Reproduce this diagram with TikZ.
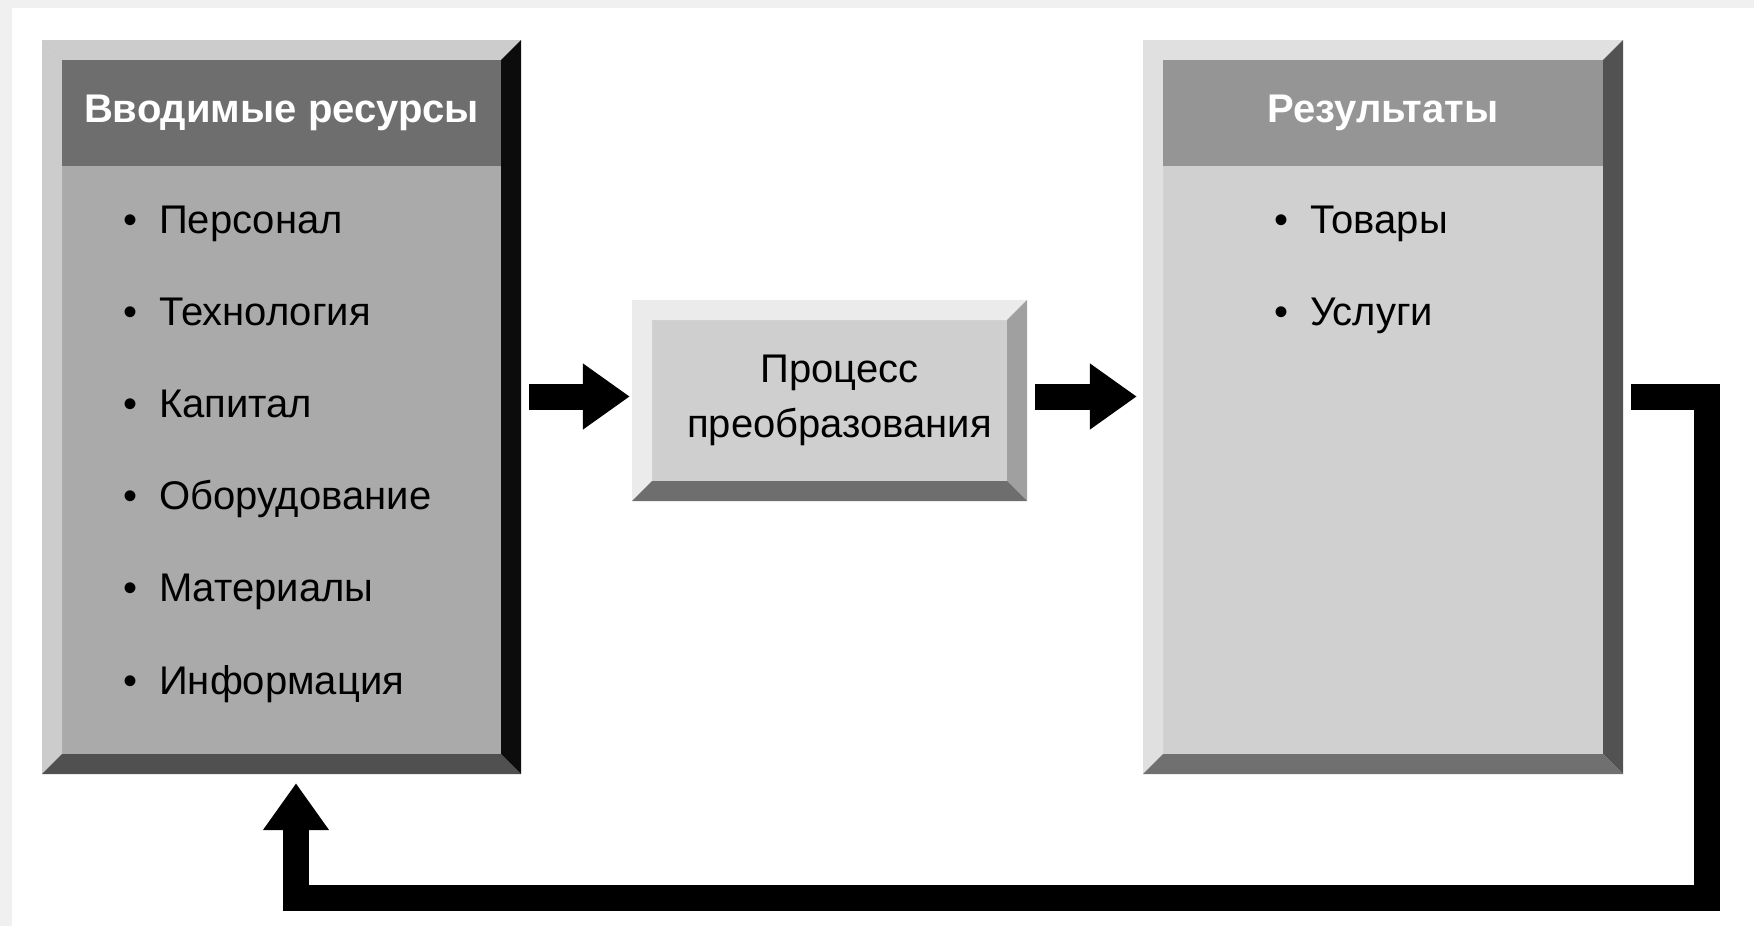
\documentclass[tikz,border=0pt]{standalone}
\usepackage{fontspec}
\setmainfont{Liberation Sans}
\usetikzlibrary{positioning, arrows.meta}

\definecolor{inface}{HTML}{AAAAAA}
\definecolor{inhead}{HTML}{6E6E6E}
\definecolor{inlight}{HTML}{CCCCCC}
\definecolor{indark}{HTML}{0C0C0C}
\definecolor{inbottom}{HTML}{505050}
\definecolor{procface}{HTML}{CFCFCF}
\definecolor{proclight}{HTML}{EBEBEB}
\definecolor{procdark}{HTML}{A0A0A0}
\definecolor{procbottom}{HTML}{6E6E6E}
\definecolor{outface}{HTML}{D0D0D0}
\definecolor{outhead}{HTML}{959595}
\definecolor{outlight}{HTML}{E0E0E0}
\definecolor{outdark}{HTML}{525252}
\definecolor{outbottom}{HTML}{707070}
\definecolor{frame}{HTML}{F0F0F0}

\begin{document}
\begin{tikzpicture}[
        x=1pt, y=-1pt,
        font=\fontsize{40}{55}\selectfont,
        bevel/.style n args={4}{inner sep=0pt, fill=#1,
            path picture={
                \path (path picture bounding box.north west) coordinate (p1)
                      (path picture bounding box.north east) coordinate (p2)
                      (path picture bounding box.south east) coordinate (p3)
                      (path picture bounding box.south west) coordinate (p4);
                \fill[#2] (p1) -- (p2) -- ([shift={(-20pt,-20pt)}]p2) -- ([shift={(20pt,-20pt)}]p1) -- cycle;
                \fill[#2] (p1) -- (p4) -- ([shift={(20pt,20pt)}]p4) -- ([shift={(20pt,-20pt)}]p1) -- cycle;
                \fill[#3] (p2) -- (p3) -- ([shift={(-20pt,20pt)}]p3) -- ([shift={(-20pt,-20pt)}]p2) -- cycle;
                \fill[#4] (p4) -- (p3) -- ([shift={(-20pt,20pt)}]p3) -- ([shift={(20pt,20pt)}]p4) -- cycle;
            }},
        head/.style={fill=#1, text=white, font=\fontsize{40}{48}\selectfont\bfseries,
                     inner sep=0pt, minimum height=106pt, minimum width=439pt},
        entry/.style={inner sep=0pt, text width=330pt, align=left,
                      text height=29pt, text depth=9pt},
        blockarrow/.style={line width=26pt, -{Triangle[width=63pt, length=47pt]}}
    ]

    \useasboundingbox (0,0) rectangle (1754,926);
    \fill[frame] (0,0) rectangle (1754,926);
    \fill[white] (12,8) rectangle (1754,926);

    % inputs
    \node[bevel={inface}{inlight}{indark}{inbottom}, minimum width=479pt, minimum height=734pt] (inp) at (281.5,407) {};
    \node[head=inhead, below=20pt of inp.north] (inphead) {Вводимые ресурсы};
    \node[entry, anchor=west] (pers) at (123,223) {•\hspace{22pt}Персонал};
    \node[entry, below=53.8pt of pers] (tech) {•\hspace{22pt}Технология};
    \node[entry, below=53.8pt of tech] (cap) {•\hspace{22pt}Капитал};
    \node[entry, below=53.8pt of cap] (equip) {•\hspace{22pt}Оборудование};
    \node[entry, below=53.8pt of equip] (mat) {•\hspace{22pt}Материалы};
    \node[entry, below=53.8pt of mat] (info) {•\hspace{22pt}Информация};

    % transformation
    \node[bevel={procface}{proclight}{procdark}{procbottom}, minimum width=395pt, minimum height=201pt,
          align=center] (proc) at (829.5,400.5) {\hspace*{20pt}Процесс\\\hspace*{20pt}преобразования};

    % outputs
    \node[bevel={outface}{outlight}{outdark}{outbottom}, minimum width=480pt, minimum height=734pt] (outp) at (1383,407) {};
    \node[head=outhead, below=20pt of outp.north, minimum width=440pt] (outphead) {Результаты};
    \node[entry, anchor=west] (goods) at (1274,223) {•\hspace{22pt}Товары};
    \node[entry, below=53.8pt of goods] (serv) {•\hspace{22pt}Услуги};

    \coordinate (turn) at (1707,898);

    \draw[blockarrow, shorten <=8pt, shorten >=2pt] ([yshift=4pt]inp.east |- proc.west) -- ([yshift=4pt]proc.west);
    \draw[blockarrow, shorten <=8pt, shorten >=6pt] ([yshift=4pt]proc.east) -- ([yshift=4pt]outp.west |- proc.east);
    \draw[blockarrow, shorten <=8pt, shorten >=9pt] ([yshift=4pt]outp.east |- proc.east) -| (turn) -| ([xshift=14.5pt]inp.south);

    \end{tikzpicture}
\end{document}
